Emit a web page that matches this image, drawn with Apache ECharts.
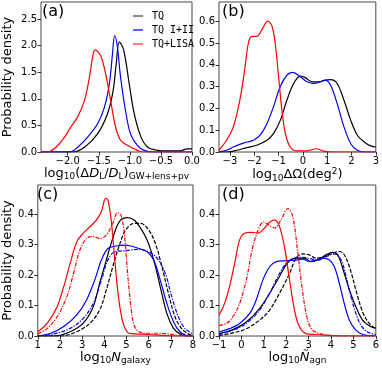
<!DOCTYPE html>
<html>
<head>
<meta charset="utf-8">
<script src="https://cdn.jsdelivr.net/npm/echarts@6/dist/echarts.min.js"></script>
<style>
  html, body { margin: 0; padding: 0; background: #fff; }
  #chart { width: 382px; height: 369px; }
</style>
</head>
<body>
<div id="chart"></div>
<script>
// (a) log10(dDL/DL)
const a_TQ = [[-2.43,0],[-1.92,0],[-1.73,0.09],[-1.52,0.34],[-1.36,0.72],[-1.27,1.15],[-1.22,1.65],[-1.17,2.07],[-1.1,1.92],[-1.01,1.28],[-0.93,0.72],[-0.82,0.28],[-0.71,0.09],[-0.55,0.03],[-0.4,0.02],[-0.19,0.02],[-0.08,0.06],[0,0.06]];
const a_TQ12 = [[-2.43,0],[-1.97,0],[-1.84,0.09],[-1.68,0.28],[-1.52,0.53],[-1.41,0.84],[-1.33,1.28],[-1.28,1.84],[-1.245,2.19],[-1.2,1.97],[-1.15,1.41],[-1.07,0.78],[-0.99,0.34],[-0.88,0.125],[-0.77,0.03],[-0.61,0],[0,0]];
const a_LISA = [[-2.43,0],[-2.32,0],[-2.19,0.09],[-2.05,0.28],[-1.95,0.47],[-1.84,0.66],[-1.73,0.97],[-1.65,1.41],[-1.6,1.78],[-1.56,1.92],[-1.47,1.81],[-1.39,1.47],[-1.31,0.97],[-1.23,0.47],[-1.15,0.22],[-1.04,0.125],[-0.93,0.06],[-0.83,0.01],[-0.72,0],[0,0]];

// (b) log10 dOmega
const b_TQ = [[-3.45,0],[-3.14,0],[-2.72,0.008],[-2.31,0.02],[-1.9,0.031],[-1.48,0.054],[-1.21,0.084],[-0.93,0.145],[-0.66,0.237],[-0.38,0.314],[-0.1,0.348],[0.1,0.341],[0.38,0.322],[0.66,0.322],[0.93,0.33],[1.14,0.332],[1.41,0.314],[1.69,0.237],[1.97,0.145],[2.24,0.077],[2.52,0.046],[2.79,0.028],[3.0,0.023]];
const b_TQ12 = [[-3.45,0],[-3.14,0.008],[-2.86,0.023],[-2.45,0.041],[-2.03,0.054],[-1.76,0.077],[-1.48,0.13],[-1.21,0.207],[-0.93,0.3],[-0.66,0.352],[-0.42,0.365],[-0.1,0.345],[0.17,0.322],[0.45,0.314],[0.72,0.322],[0.93,0.33],[1.14,0.306],[1.41,0.222],[1.69,0.115],[1.97,0.038],[2.24,0.008],[2.52,0],[3.0,0]];
const b_LISA = [[-3.45,0.008],[-3.14,0.054],[-2.86,0.115],[-2.59,0.24],[-2.38,0.39],[-2.24,0.5],[-2.1,0.53],[-1.9,0.53],[-1.69,0.56],[-1.45,0.6],[-1.28,0.58],[-1.14,0.5],[-1.0,0.345],[-0.86,0.19],[-0.72,0.084],[-0.52,0.023],[-0.24,0.005],[0.17,0.005],[0.55,0.015],[0.86,0.004],[1.28,0],[3.0,0]];

// (c) log10 N_galaxy
const c_TQ = [[1,0],[1.72,0],[2.46,0.014],[3.05,0.042],[3.5,0.096],[3.79,0.173],[4.09,0.249],[4.38,0.32],[4.68,0.375],[5.05,0.388],[5.34,0.38],[5.64,0.353],[5.93,0.315],[6.23,0.249],[6.52,0.162],[6.82,0.074],[7.12,0.025],[7.41,0.007],[7.7,0],[8,0]];
const c_TQd = [[1,0],[2.02,0],[2.76,0.014],[3.35,0.042],[3.79,0.085],[4.09,0.151],[4.38,0.227],[4.68,0.298],[4.97,0.348],[5.34,0.369],[5.64,0.369],[6.0,0.348],[6.3,0.304],[6.6,0.227],[6.89,0.14],[7.19,0.063],[7.48,0.025],[7.78,0.007],[8,0.002]];
const c_TQ12 = [[1,0],[1.58,0.009],[2.17,0.031],[2.76,0.069],[3.2,0.118],[3.57,0.184],[3.87,0.249],[4.16,0.287],[4.53,0.295],[4.9,0.298],[5.2,0.295],[5.56,0.287],[5.93,0.276],[6.23,0.249],[6.52,0.184],[6.82,0.107],[7.12,0.047],[7.41,0.014],[7.7,0.002],[8,0]];
const c_TQ12d = [[1,0],[1.72,0.007],[2.46,0.025],[3.05,0.058],[3.5,0.107],[3.87,0.184],[4.16,0.249],[4.46,0.276],[4.83,0.279],[5.2,0.282],[5.56,0.284],[6.0,0.276],[6.38,0.255],[6.75,0.205],[7.04,0.129],[7.34,0.063],[7.63,0.025],[8,0.007]];
const c_LISA = [[1,0.014],[1.43,0.042],[1.87,0.096],[2.17,0.162],[2.46,0.238],[2.76,0.309],[3.05,0.337],[3.35,0.358],[3.64,0.38],[3.87,0.408],[4.06,0.451],[4.16,0.446],[4.31,0.38],[4.46,0.26],[4.6,0.151],[4.75,0.074],[4.9,0.031],[5.12,0.009],[5.42,0.007],[6.0,0.005],[6.6,0.002],[7.2,0],[8,0]];
const c_LISAd = [[1,0.007],[1.43,0.025],[1.87,0.063],[2.31,0.129],[2.61,0.205],[2.9,0.282],[3.2,0.32],[3.5,0.326],[3.79,0.32],[4.09,0.331],[4.38,0.369],[4.6,0.404],[4.75,0.397],[4.9,0.337],[5.05,0.205],[5.2,0.096],[5.34,0.036],[5.56,0.014],[6.0,0.009],[6.45,0.009],[6.9,0.007],[7.34,0.002],[8,0]];

// (d) log10 N_agn
const d_TQ = [[-1,0.008],[-0.38,0.021],[0.22,0.046],[0.81,0.09],[1.26,0.14],[1.7,0.195],[2.07,0.241],[2.44,0.255],[2.81,0.255],[3.11,0.244],[3.41,0.249],[3.78,0.266],[4.07,0.274],[4.3,0.266],[4.52,0.222],[4.82,0.151],[5.11,0.096],[5.41,0.052],[5.78,0.03],[6.0,0.026]];
const d_TQd = [[-1,0.002],[-0.38,0.01],[0.22,0.024],[0.81,0.052],[1.26,0.085],[1.7,0.14],[2.15,0.205],[2.44,0.255],[2.74,0.269],[3.03,0.266],[3.33,0.255],[3.63,0.258],[4.0,0.269],[4.34,0.277],[4.55,0.271],[4.82,0.227],[5.11,0.151],[5.41,0.079],[5.71,0.041],[6.0,0.024]];
const d_TQ12 = [[-1,0.013],[-0.53,0.024],[-0.08,0.041],[0.37,0.074],[0.66,0.118],[0.96,0.184],[1.26,0.227],[1.55,0.244],[1.99,0.247],[2.44,0.249],[2.74,0.252],[3.03,0.244],[3.33,0.249],[3.63,0.255],[3.93,0.249],[4.15,0.227],[4.37,0.173],[4.59,0.107],[4.82,0.052],[5.11,0.019],[5.41,0.005],[5.78,0.001],[6,0]];
const d_TQ12d = [[-1,0.005],[-0.38,0.019],[0.22,0.041],[0.81,0.085],[1.26,0.14],[1.63,0.195],[2.0,0.238],[2.37,0.255],[2.74,0.258],[3.11,0.253],[3.41,0.249],[3.78,0.26],[4.15,0.269],[4.45,0.249],[4.67,0.195],[4.89,0.129],[5.11,0.074],[5.34,0.035],[5.63,0.013],[6.0,0.005]];
const d_LISA = [[-1,0.068],[-0.75,0.107],[-0.53,0.162],[-0.3,0.238],[-0.08,0.315],[0.14,0.337],[0.44,0.34],[0.74,0.337],[0.96,0.348],[1.26,0.373],[1.48,0.381],[1.7,0.359],[1.92,0.293],[2.15,0.184],[2.37,0.085],[2.59,0.03],[2.89,0.008],[3.33,0.005],[3.93,0.002],[4.52,0],[6,0]];
const d_LISAd = [[-1,0.035],[-0.67,0.041],[-0.38,0.063],[-0.08,0.107],[0.22,0.184],[0.51,0.293],[0.81,0.359],[0.99,0.373],[1.26,0.362],[1.48,0.354],[1.77,0.381],[2.07,0.418],[2.29,0.392],[2.52,0.271],[2.74,0.14],[2.96,0.052],[3.18,0.019],[3.48,0.008],[3.93,0.002],[4.52,0],[6,0]];

// tick labels
const ticksAx = [-2.0, -1.5, -1.0, -0.5, 0.0];
const ticksAy = [0.0, 0.5, 1.0, 1.5, 2.0, 2.5];
const ticksBx = [-3, -2, -1, 0, 1, 2, 3];
const ticksBy = [0.0, 0.1, 0.2, 0.3, 0.4, 0.5, 0.6];
const ticksCx = [1, 2, 3, 4, 5, 6, 7, 8];
const ticksCy = [0.0, 0.1, 0.2, 0.3, 0.4];
const ticksDx = [-1, 0, 1, 2, 3, 4, 5, 6];
const ticksDy = [0.0, 0.1, 0.2, 0.3, 0.4];

const K = '#000000', B = '#0000ff', R = '#ff0000';
const FONT = 'DejaVu Sans';

const fmt = (dec) => (v) => (v < 0 ? '\u2212' : '') + Math.abs(v).toFixed(dec);

const rich = {
  m: { fontSize: 13, fontFamily: FONT, color: '#000', lineHeight: 16, verticalAlign: 'middle' },
  i: { fontSize: 13, fontFamily: FONT, fontStyle: 'italic', color: '#000', lineHeight: 16, verticalAlign: 'middle' },
  s: { fontSize: 9, fontFamily: FONT, color: '#000', lineHeight: 8, verticalAlign: 'bottom' },
  p: { fontSize: 9, fontFamily: FONT, color: '#000', lineHeight: 8, verticalAlign: 'top' }
};

function xAx(idx, min, max, ticks, dec, name) {
  return {
    type: 'value', gridIndex: idx, min: min, max: max,
    axisLine: { show: false, onZero: false },
    splitLine: { show: false },
    axisTick: { show: true, length: 3.5, customValues: ticks, lineStyle: { color: '#000', width: 0.8 } },
    axisLabel: { customValues: ticks, formatter: fmt(dec), fontSize: 10, fontFamily: FONT, color: '#000', margin: 4 },
    name: name, nameLocation: 'middle', nameGap: 12,
    nameTextStyle: { rich: rich }
  };
}
function yAx(idx, min, max, ticks, name, gap) {
  return {
    type: 'value', gridIndex: idx, min: min, max: max,
    axisLine: { show: false, onZero: false },
    splitLine: { show: false },
    axisTick: { show: true, length: 3.5, customValues: ticks, lineStyle: { color: '#000', width: 0.8 } },
    axisLabel: { customValues: ticks, formatter: fmt(1), fontSize: 10, fontFamily: FONT, color: '#000', margin: 4 },
    name: name, nameLocation: 'middle', nameGap: gap || 20,
    nameTextStyle: { fontSize: 13, fontFamily: FONT, color: '#000' }
  };
}
function line(name, idx, data, color, type) {
  return {
    name: name, type: 'line', xAxisIndex: idx, yAxisIndex: idx, data: data,
    smooth: 0.35, showSymbol: false, symbol: 'none', clip: true, silent: true,
    lineStyle: { color: color, width: 1.2, type: type || 'solid' },
    itemStyle: { color: color }
  };
}
const DASH = [4, 1.6];
const DASHDOT = [4, 1.4, 1.2, 1.4];

const gridStyle = { show: true, borderColor: '#333', borderWidth: 0.9, backgroundColor: 'transparent' };

const option = {
  animation: false,
  backgroundColor: '#fff',
  grid: [
    Object.assign({ left: 41, top: 2, width: 151, height: 150 }, gridStyle),
    Object.assign({ left: 219, top: 2, width: 157, height: 150 }, gridStyle),
    Object.assign({ left: 34, top: 185, width: 159, height: 151 }, gridStyle),
    Object.assign({ left: 219, top: 185, width: 157, height: 151 }, gridStyle)
  ],
  title: [
    { text: '(a)', left: 42, top: 4 },
    { text: '(b)', left: 222, top: 4 },
    { text: '(c)', left: 37, top: 187 },
    { text: '(d)', left: 222, top: 187 }
  ].map(t => Object.assign(t, { padding: 0, textStyle: { fontSize: 16, fontWeight: 'normal', fontFamily: FONT, color: '#000' } })),
  legend: {
    orient: 'vertical', left: 128, top: 5, itemWidth: 10, itemHeight: 2, itemGap: 2,
    icon: 'rect', selectedMode: false,
    textStyle: { fontFamily: 'DejaVu Sans Mono', fontSize: 10, color: '#000', padding: [0, 0, 0, 4], lineHeight: 12 },
    data: [
      { name: 'TQ', itemStyle: { color: '#888' } },
      { name: 'TQ I+II', itemStyle: { color: '#6060ff' } },
      { name: 'TQ+LISA', itemStyle: { color: '#ff8080' } }
    ]
  },
  xAxis: [
    xAx(0, -2.43, 0, ticksAx, 1, '{m|log}{s|10}{m|(Δ}{i|D}{s|L}{m|/}{i|D}{s|L}{m|)}{s|GW+lens+pv}'),
    xAx(1, -3.45, 3, ticksBx, 0, '{m|log}{s|10}{m|ΔΩ(deg}{p|2}{m|)}'),
    xAx(2, 1, 8, ticksCx, 0, '{m|log}{s|10}{i|N}{s|galaxy}'),
    xAx(3, -1, 6, ticksDx, 0, '{m|log}{s|10}{i|Ñ}{s|agn}')
  ],
  yAxis: [
    yAx(0, 0, 2.82, ticksAy, 'Probability density', 27),
    yAx(1, 0, 0.688, ticksBy, ''),
    yAx(2, 0, 0.495, ticksCy, 'Probability density', 21),
    yAx(3, 0, 0.495, ticksDy, '')
  ],
  series: [
    line('TQ', 0, a_TQ, K),
    line('TQ I+II', 0, a_TQ12, B),
    line('TQ+LISA', 0, a_LISA, R),

    line('b1', 1, b_TQ, K),
    line('b2', 1, b_TQ12, B),
    line('b3', 1, b_LISA, R),

    line('c1', 2, c_TQ, K),
    line('c2', 2, c_TQd, K, DASH),
    line('c3', 2, c_TQ12, B),
    line('c4', 2, c_TQ12d, B, DASHDOT),
    line('c5', 2, c_LISA, R),
    line('c6', 2, c_LISAd, R, DASHDOT),

    line('d1', 3, d_TQ, K),
    line('d2', 3, d_TQd, K, DASH),
    line('d3', 3, d_TQ12, B),
    line('d4', 3, d_TQ12d, B, DASHDOT),
    line('d5', 3, d_LISA, R),
    line('d6', 3, d_LISAd, R, DASHDOT)
  ]
};

const chart = echarts.init(document.getElementById('chart'), null, { renderer: 'canvas' });
chart.setOption(option);
</script>
</body>
</html>
